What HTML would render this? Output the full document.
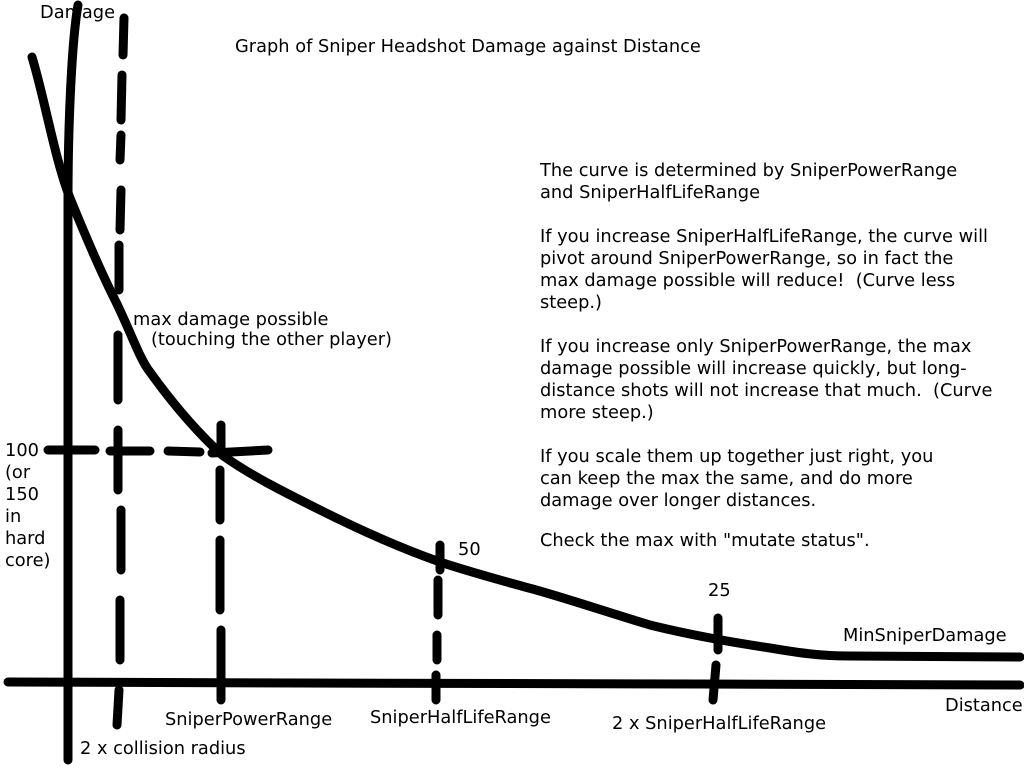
<!DOCTYPE html>
<html><head><meta charset="utf-8"><style>
html,body{margin:0;padding:0;background:#fff;width:1024px;height:768px;overflow:hidden}
svg text{font-family:"DejaVu Sans","Liberation Sans",sans-serif;font-size:17.8px;fill:#000;white-space:pre}
</style></head><body>
<svg width="1024" height="768" viewBox="0 0 1024 768" xmlns="http://www.w3.org/2000/svg">
<g fill="none" stroke="#000" stroke-width="9" stroke-linecap="round" stroke-linejoin="round">
<path d="M78 5 C72 40 68 120 68 200 L68 760"/>
<path d="M8 682 L300 683 L700 684 L1020 685"/>
<path d="M32 57 C45 100 55 160 70 198 C85 235 100 270 115 300 C130 330 140 360 150 372 C170 400 195 430 222 455 C250 475 280 490 320 510 C360 530 400 548 440 562 C470 572 500 580 525 587 C560 596 600 610 650 625 C690 635 730 642 770 648 C800 653 820 656 850 656 L1020 657"/>
</g>
<g fill="none" stroke="#000" stroke-width="9" stroke-linecap="round">
<path d="M124 18 L123 55 M122 75 L121 120 M121 135 L120 160 M121 190 L120 230 M119 245 L119 290 M118 335 L118 400 M118 430 L118 490 M121 510 L121 570 M120 600 L120 660 M119 690 L117 725"/>
<path d="M221 425 L221 450 M220 470 L220 520 M220 540 L220 610 M221 630 L221 700"/>
<path d="M440 545 L440 570 M438 580 L438 615 M437 635 L437 660 M436 675 L436 700"/>
<path d="M718 618 L718 650 M716 665 L713 700"/>
<path d="M48 450 L95 450 M110 451 L150 451 M168 451 L200 452 M212 453 L268 450"/>
</g>
<text x="40" y="18">Damage</text>
<text x="235" y="52">Graph of Sniper Headshot Damage against Distance</text>
<text x="540" y="176">The curve is determined by SniperPowerRange</text>
<text x="540" y="198">and SniperHalfLifeRange</text>
<text x="540" y="242">If you increase SniperHalfLifeRange, the curve will</text>
<text x="540" y="264">pivot around SniperPowerRange, so in fact the</text>
<text x="540" y="286">max damage possible will reduce!  (Curve less</text>
<text x="540" y="308">steep.)</text>
<text x="540" y="352">If you increase only SniperPowerRange, the max</text>
<text x="540" y="374">damage possible will increase quickly, but long-</text>
<text x="540" y="396">distance shots will not increase that much.  (Curve</text>
<text x="540" y="418">more steep.)</text>
<text x="540" y="462">If you scale them up together just right, you</text>
<text x="540" y="484">can keep the max the same, and do more</text>
<text x="540" y="506">damage over longer distances.</text>
<text x="540" y="546">Check the max with "mutate status".</text>
<text x="133" y="325">max damage possible</text>
<text x="151" y="345">(touching the other player)</text>
<text x="5" y="456">100</text>
<text x="5" y="478">(or</text>
<text x="5" y="500">150</text>
<text x="5" y="522">in</text>
<text x="5" y="544">hard</text>
<text x="5" y="566">core)</text>
<text x="458" y="555">50</text>
<text x="708" y="596">25</text>
<text x="843" y="641">MinSniperDamage</text>
<text x="945" y="711">Distance</text>
<text x="165" y="725">SniperPowerRange</text>
<text x="370" y="723">SniperHalfLifeRange</text>
<text x="612" y="729">2 x SniperHalfLifeRange</text>
<text x="80" y="754">2 x collision radius</text>
</svg>
</body></html>
